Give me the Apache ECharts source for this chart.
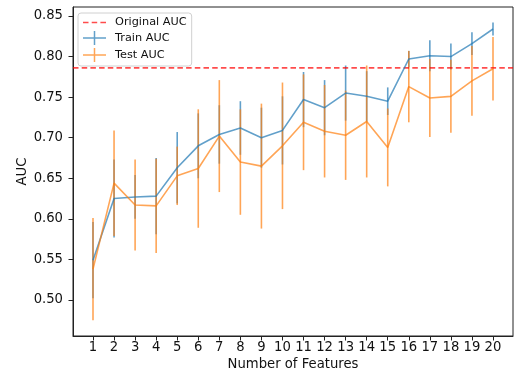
<!DOCTYPE html>
<html>
<head>
<meta charset="utf-8">
<script src="https://cdn.jsdelivr.net/npm/echarts@6/dist/echarts.min.js"></script>
<style>html,body{margin:0;padding:0;background:#fff}#c{width:514px;height:374px}</style>
</head>
<body>
<div id="c"></div>
<script>
// ---- data ----
var features = [1,2,3,4,5,6,7,8,9,10,11,12,13,14,15,16,17,18,19,20];
var trainMean = [0.549,0.625,0.627,0.628,0.663,0.690,0.704,0.712,0.700,0.709,0.747,0.737,0.755,0.751,0.745,0.797,0.801,0.800,0.816,0.834];
var trainErr  = [0.047,0.048,0.027,0.047,0.044,0.040,0.036,0.033,0.037,0.042,0.034,0.034,0.034,0.031,0.017,0.010,0.019,0.016,0.014,0.008];
var testMean  = [0.538,0.644,0.617,0.616,0.653,0.662,0.702,0.670,0.665,0.690,0.719,0.708,0.703,0.720,0.688,0.763,0.749,0.751,0.770,0.785];
var testErr   = [0.063,0.065,0.056,0.058,0.036,0.073,0.069,0.065,0.077,0.078,0.059,0.057,0.055,0.069,0.048,0.044,0.048,0.045,0.043,0.039];
var originalAUC = 0.786;
var yTicks = [0.50,0.55,0.60,0.65,0.70,0.75,0.80,0.85];
var xTicks = features;

var blue = 'rgba(31,119,180,0.7)';
var orange = 'rgba(255,127,14,0.7)';
var red = 'rgba(255,0,0,0.7)';
var xMin = 0.05, xMax = 20.95, yMin = 0.4556, yMax = 0.8611;

function pairs(xs, ys){ return xs.map(function(x,i){return [x, ys[i]];}); }
function triples(xs, ys, es){ return xs.map(function(x,i){return [x, ys[i], es[i]];}); }

function errRender(color){
  return function(params, api){
    var x = api.value(0), m = api.value(1), e = api.value(2);
    var p1 = api.coord([x, m - e]);
    var p2 = api.coord([x, m + e]);
    return {type:'line', shape:{x1:p1[0], y1:p1[1], x2:p2[0], y2:p2[1]},
            style:{stroke:color, lineWidth:1.6}};
  };
}

var font = 'DejaVu Sans';
var txt = '#111';
var chart = echarts.init(document.getElementById('c'), null, {renderer:'canvas'});
chart.setOption({
  animation:false,
  grid:{left:73, right:1, top:7, bottom:38, show:true, borderColor:'#222', borderWidth:1, backgroundColor:'transparent',
        containLabel:false, outerBoundsMode:'none'},
  legend:{
    orient:'vertical', left:78, top:13,
    padding:[4,5,4,5], itemGap:3, itemWidth:23, itemHeight:14,
    backgroundColor:'rgba(255,255,255,0.8)', borderColor:'#d0d0d0', borderWidth:1, borderRadius:3,
    textStyle:{fontFamily:font, fontSize:11.3, color:txt, padding:[0,0,0,4]},
    selectedMode:false,
    data:[
      {name:'Original AUC', icon:'path://M0,6.25h5.5v1.5h-5.5z M8.7,6.25h5.5v1.5h-5.5z M17.4,6.25h5.6v1.5h-5.6z', itemStyle:{color:red}},
      {name:'Train AUC', icon:'path://M0,6.25h10.75v1.5h-10.75z M10.75,0h1.5v14h-1.5z M12.25,6.25h10.75v1.5h-10.75z', itemStyle:{color:blue}},
      {name:'Test AUC', icon:'path://M0,6.25h10.75v1.5h-10.75z M10.75,0h1.5v14h-1.5z M12.25,6.25h10.75v1.5h-10.75z', itemStyle:{color:orange}}
    ]
  },
  xAxis:{
    type:'value', min:xMin, max:xMax,
    name:'Number of Features', nameLocation:'middle', nameGap:22, nameMoveOverlap:false,
    nameTextStyle:{fontFamily:font, fontSize:13.2, color:txt},
    axisLine:{show:true, lineStyle:{color:'#222', width:1}},
    axisTick:{show:true, length:4.5, customValues:xTicks, lineStyle:{color:'#222'}},
    axisLabel:{customValues:xTicks, margin:5, fontFamily:font, fontSize:13.2, color:txt, formatter:function(v){return String(Math.round(v));}},
    splitLine:{show:false}
  },
  yAxis:{
    type:'value', min:yMin, max:yMax,
    name:'AUC', nameLocation:'middle', nameGap:44, nameRotate:90, nameMoveOverlap:false,
    nameTextStyle:{fontFamily:font, fontSize:13.2, color:txt},
    axisLine:{show:true, lineStyle:{color:'#222', width:1}},
    axisTick:{show:true, length:4.5, customValues:yTicks, lineStyle:{color:'#222'}},
    axisLabel:{customValues:yTicks, margin:10, fontFamily:font, fontSize:13.2, color:txt, formatter:function(v){return v.toFixed(2);}},
    splitLine:{show:false}
  },
  series:[
    {name:'Original AUC', type:'line', data:[[xMin, originalAUC],[xMax, originalAUC]], showSymbol:false, symbol:'none',
     lineStyle:{color:red, width:1.8, type:[5.5,3.2]}, itemStyle:{color:red}},
    {name:'Train AUC', type:'custom', data:triples(features, trainMean, trainErr), renderItem:errRender(blue), encode:{x:0,y:1}, itemStyle:{color:blue}},
    {name:'Train AUC', type:'line', data:pairs(features, trainMean), showSymbol:false, symbol:'none',
     lineStyle:{color:blue, width:1.6}, itemStyle:{color:blue}},
    {name:'Test AUC', type:'custom', data:triples(features, testMean, testErr), renderItem:errRender(orange), encode:{x:0,y:1}, itemStyle:{color:orange}},
    {name:'Test AUC', type:'line', data:pairs(features, testMean), showSymbol:false, symbol:'none',
     lineStyle:{color:orange, width:1.6}, itemStyle:{color:orange}}
  ]
});
</script>
</body>
</html>
